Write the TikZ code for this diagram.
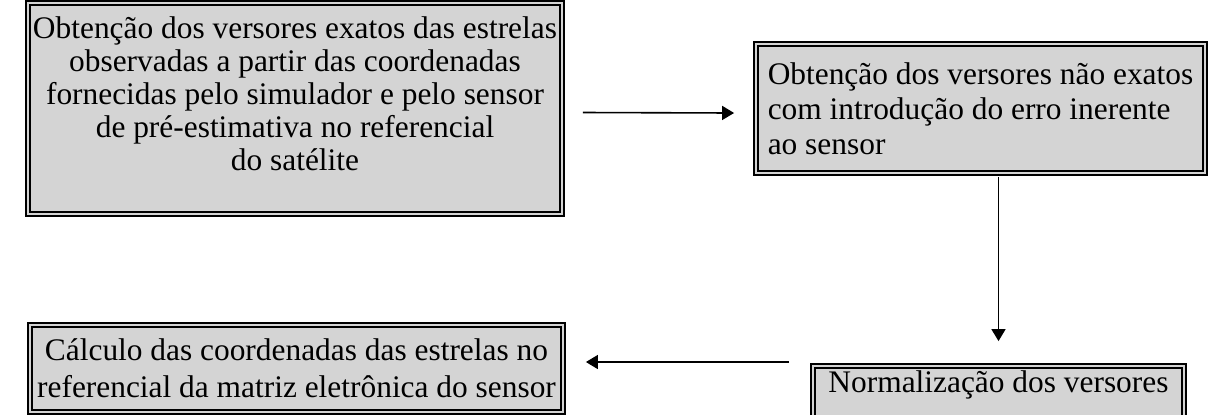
\documentclass[tikz,border=0pt]{standalone}
\usepackage{fontspec}
\setmainfont{Liberation Serif}
\usepackage{tikz}
\usetikzlibrary{arrows.meta,positioning,calc}
\usepackage{xcolor}
\definecolor{BoxGray}{HTML}{D4D4D4}
\definecolor{LineBlack}{HTML}{000000}
\tikzset{
    % Base box style
    flowbox/.style={
        draw=LineBlack,
        fill=BoxGray,
        double=BoxGray,
        line width=0.9pt,
        double distance=1pt,
        inner sep=2pt,
        align=center,
        font=\fontsize{15.7pt}{18.5pt}\selectfont
    },
    % Box with text set to the left
    leftbox/.style={
        flowbox,
        align=left,
        font=\fontsize{15.7pt}{17.5pt}\selectfont
    },
    % Arrow style (straight lines only)
    flowarrow/.style={
        -{Triangle[length=6pt,width=7pt]},
        line width=0.8pt,
        draw=LineBlack
    }
}
\begin{document}
\begin{tikzpicture}[x=0.5pt,y=-0.5pt]
    \useasboundingbox (0,0) rectangle (1209,414);
    \node[flowbox, minimum width=267pt, minimum height=105.5pt, font=\fontsize{15.7pt}{16.5pt}\selectfont,
          text height=77pt, text depth=15.5pt] (obtexact) at (295,108.5)
        {Obtenção dos versores exatos das estrelas\\
         observadas a partir das coordenadas\\
         fornecidas pelo simulador e pelo sensor\\
         de pré-estimativa no referencial\\
         do satélite};
    \node[leftbox, minimum width=224.5pt, minimum height=64.5pt] (obtinexact) at (980.5,108.5)
        {Obtenção dos versores não exatos\\
         com introdução do erro inerente\\
         ao sensor};
    \node[flowbox, minimum width=266.5pt, minimum height=43.5pt] (calccoord) at (296.5,368.5)
        {Cálculo das coordenadas das estrelas no\\
         referencial da matriz eletrônica do sensor};
    \node[flowbox, minimum width=185.5pt, minimum height=39pt, text height=11pt, text depth=24pt] (normvers) at (998.5,405)
        {Normalização dos versores};

    \draw[flowarrow] ([xshift=10pt,yshift=-2pt]obtexact.east) -- ([xshift=-10.5pt,yshift=-2.25pt]obtinexact.west);
    \draw[flowarrow] ([yshift=-1.5pt]obtinexact.south -| normvers.north) -- ([yshift=12pt]normvers.north);
    \draw[flowarrow] ([xshift=-11.5pt,yshift=21.5pt]normvers.west) -- ([xshift=11pt,yshift=3.25pt]calccoord.east);
\end{tikzpicture}
\end{document}
